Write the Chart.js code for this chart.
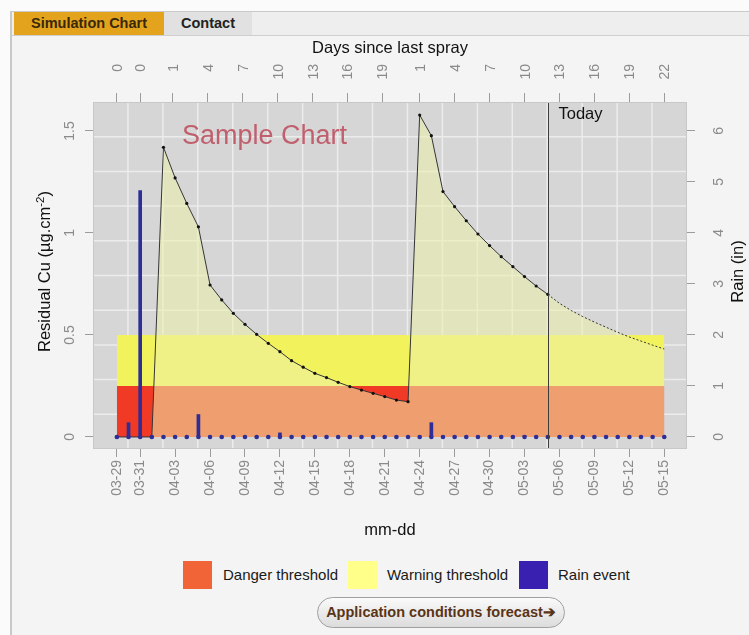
<!DOCTYPE html>
<html>
<head>
<meta charset="utf-8">
<script src="https://cdn.jsdelivr.net/npm/chart.js@4.4.1/dist/chart.umd.min.js"></script>
<style>
html,body{margin:0;padding:0;width:749px;height:635px;overflow:hidden;background:#fbfbfb;font-family:"Liberation Sans",Arial,Helvetica,sans-serif;}
#frame{position:absolute;left:10px;top:11px;width:739px;height:624px;background:#f4f4f4;border-left:2px solid #c9c9c9;border-top:1px solid #c9c9c9;}
#tabbar{position:absolute;left:0;top:0;width:739px;height:23px;background:#eeeeee;border-bottom:1px solid #cfcfcf;}
.tab{position:absolute;top:0;height:23px;line-height:23px;font-weight:bold;font-size:14.5px;text-align:center;}
#t1{left:2px;width:150px;background:#e4a31d;color:#3a2808;}
#t2{left:152px;width:88px;background:#e1e1e1;color:#222;}
#wrap{position:absolute;left:0;top:36px;width:749px;height:510px;}
.lg-box{position:absolute;top:561px;width:29px;height:28px;}
.lg-txt{position:absolute;top:566px;font-size:15px;line-height:18px;color:#1a1a1a;white-space:nowrap;}
#btn{position:absolute;left:317px;top:597px;width:246px;height:29px;border:1px solid #a0a0a0;border-radius:16px;background:linear-gradient(#fafafa,#dcdcdc);font-weight:bold;font-size:14.5px;line-height:29px;text-align:center;color:#5a3416;white-space:nowrap;}
</style>
</head>
<body>
<div id="frame">
  <div id="tabbar">
    <div class="tab" id="t1">Simulation Chart</div>
    <div class="tab" id="t2">Contact</div>
  </div>
</div>
<div id="wrap"><canvas id="c" width="749" height="510"></canvas></div>
<div class="lg-box" style="left:183px;background:#f06438;"></div>
<div class="lg-txt" style="left:223px;">Danger threshold</div>
<div class="lg-box" style="left:348px;background:#ffff8a;"></div>
<div class="lg-txt" style="left:387px;">Warning threshold</div>
<div class="lg-box" style="left:519px;background:#3a20b0;"></div>
<div class="lg-txt" style="left:558px;">Rain event</div>
<div id="btn">Application conditions forecast&#10132;</div>
<script>
// ---------- DATA ----------
const dates = ['03-29','03-30','03-31',
 '04-01','04-02','04-03','04-04','04-05','04-06','04-07','04-08','04-09','04-10',
 '04-11','04-12','04-13','04-14','04-15','04-16','04-17','04-18','04-19','04-20',
 '04-21','04-22','04-23','04-24','04-25','04-26','04-27','04-28','04-29','04-30',
 '05-01','05-02','05-03','05-04','05-05','05-06','05-07','05-08','05-09','05-10',
 '05-11','05-12','05-13','05-14','05-15'];
const tickDates = ['03-29','03-31','04-03','04-06','04-09','04-12','04-15','04-18','04-21',
 '04-24','04-27','04-30','05-03','05-06','05-09','05-12','05-15'];
const todayDate = '05-05';
// residual copper, observed (03-29 .. 05-05)
const cuObserved = [0,0,0,0,1.42,1.27,1.145,1.03,0.745,0.672,0.606,0.552,0.503,0.459,0.418,
 0.374,0.342,0.312,0.291,0.268,0.247,0.230,0.214,0.198,0.181,0.173,1.578,1.477,1.203,1.129,
 1.060,0.995,0.938,0.884,0.835,0.786,0.740,0.699];
// residual copper, forecast (05-05 .. 05-15)
const cuForecast = [0.699,0.655,0.620,0.590,0.563,0.538,0.513,0.490,0.470,0.450,0.431];
// daily rain (in)
const rainInches = [0,0.28,4.83,0,0,0,0,0.44,0,0,0,0,0,0,0.08,0,0,0,0,0,0,0,0,0,0,0,0,0.28,
 0,0,0,0,0,0,0,0.03,0,0,0,0,0,0,0,0,0,0,0,0];
// top axis: days since last spray (position in days from 03-29, label)
const sprayTickDays = [0,2,4.8,7.8,10.8,13.8,16.8,19.8,22.8,26,29,32,35,38,41,44,47];
const sprayTickLabels = ['0','0','1','4','7','10','13','16','19','1','4','7','10','13','16','19','22'];
const cuTicks = [0,0.5,1,1.5];
const rainTicks = [0,1,2,3,4,5,6];
const dangerLevel = 0.25;
const warningLevel = 0.5;

// ---------- STYLE / LAYOUT ----------
const FONT = '"Liberation Sans", Arial, Helvetica, sans-serif';
const TICK_COLOR = '#8a8a8a';
const xMin = -2.05, xMax = 48.95;
const yMin = -0.059, yMax = 1.642;
const rainPerCu = 4;
const todayIdx = dates.indexOf(todayDate);
const lastIdx = dates.length - 1;
const cuAll = cuObserved.concat(cuForecast.slice(1));

const panelPlugin = {
  id: 'panel',
  beforeDraw(chart) {
    const {ctx, chartArea: a} = chart;
    ctx.save();
    ctx.fillStyle = '#d6d6d6';
    ctx.fillRect(a.left, a.top, a.right - a.left, a.bottom - a.top);
    ctx.strokeStyle = '#ececec';
    ctx.lineWidth = 1.5;
    const nx = 17, ny = 10;
    ctx.beginPath();
    for (let i = 1; i < nx; i++) {
      const x = a.left + (a.right - a.left) * i / nx;
      ctx.moveTo(x, a.top); ctx.lineTo(x, a.bottom);
    }
    for (let j = 1; j < ny; j++) {
      const y = a.top + (a.bottom - a.top) * j / ny;
      ctx.moveTo(a.left, y); ctx.lineTo(a.right, y);
    }
    ctx.stroke();
    ctx.restore();
  },
  afterDatasetsDraw(chart) {
    const {ctx, chartArea: a, scales} = chart;
    ctx.save();
    const tx = Math.round(scales.x.getPixelForValue(todayIdx)) + 0.5;
    ctx.strokeStyle = '#3c3c3c';
    ctx.lineWidth = 1;
    ctx.beginPath(); ctx.moveTo(tx, a.top); ctx.lineTo(tx, a.bottom); ctx.stroke();
    ctx.fillStyle = '#111';
    ctx.font = '16.5px ' + FONT;
    ctx.textAlign = 'left'; ctx.textBaseline = 'alphabetic';
    ctx.fillText('Today', tx + 10, a.top + 17);
    ctx.fillStyle = '#c0606e';
    ctx.font = '27px ' + FONT;
    ctx.textBaseline = 'middle';
    ctx.fillText('Sample Chart', a.left + 89, a.top + 35);
    ctx.strokeStyle = '#c8c8c8';
    ctx.strokeRect(a.left + 0.5, a.top + 0.5, a.right - a.left - 1, a.bottom - a.top - 1);
    ctx.restore();
  },
  afterDraw(chart) {
    const {ctx, chartArea: a, scales} = chart;
    ctx.save();
    ctx.font = '14px ' + FONT;
    ctx.fillStyle = TICK_COLOR;
    ctx.textBaseline = 'alphabetic';
    const drawRot = (txt, x, y) => { ctx.save(); ctx.translate(x, y); ctx.rotate(-Math.PI/2); ctx.fillText(txt, 0, 0); ctx.restore(); };
    ctx.textAlign = 'center';
    scales.y.ticks.forEach(t => drawRot(String(t.value), a.left - 19, scales.y.getPixelForValue(t.value)));
    scales.y2.ticks.forEach(t => drawRot(String(t.value), a.right + 36, scales.y2.getPixelForValue(t.value)));
    // top axis labels (top-aligned, reading upward)
    ctx.textAlign = 'right';
    scales.x2.ticks.forEach((t, i) => drawRot(sprayTickLabels[i], scales.x2.getPixelForValue(t.value) + 5, a.top - 38));
    // titles
    ctx.fillStyle = '#111';
    ctx.font = '16.5px ' + FONT;
    const cy = (a.top + a.bottom) / 2 - 4;
    const cx = (a.left + a.right) / 2;
    ctx.textAlign = 'center';
    ctx.textBaseline = 'middle';
    ctx.fillText('Days since last spray', cx, 12);
    ctx.fillText('mm-dd', cx, a.bottom + 81);
    ctx.textBaseline = 'alphabetic';
    drawRot('Rain (in)', a.right + 56, cy);
    const p1 = 'Residual Cu (\u00b5g.cm', p2 = '-2', p3 = ')';
    ctx.font = '16.5px ' + FONT; const w1 = ctx.measureText(p1).width, w3 = ctx.measureText(p3).width;
    ctx.font = '11.5px ' + FONT; const w2 = ctx.measureText(p2).width;
    const tot = w1 + w2 + w3;
    ctx.save();
    ctx.translate(a.left - 43, cy);
    ctx.rotate(-Math.PI/2);
    ctx.textAlign = 'left';
    ctx.font = '16.5px ' + FONT; ctx.fillText(p1, -tot/2, 0);
    ctx.font = '11.5px ' + FONT; ctx.fillText(p2, -tot/2 + w1, -6);
    ctx.font = '16.5px ' + FONT; ctx.fillText(p3, -tot/2 + w1 + w2, 0);
    ctx.restore();
    ctx.restore();
  }
};

const pts = (arr, start) => arr.map((v, i) => ({x: start + i, y: v}));

new Chart(document.getElementById('c'), {
  type: 'line',
  data: {
    datasets: [
      { label: 'Rain days', type: 'line', data: pts(dates.map(() => 0), 0), xAxisID: 'x', yAxisID: 'y2',
        showLine: false, pointRadius: 2.3, pointBackgroundColor: '#2e2e96', pointBorderWidth: 0, order: 0 },
      { label: 'Rain event', type: 'bar', data: pts(rainInches, 0), xAxisID: 'x', yAxisID: 'y2',
        backgroundColor: '#2e2e96', barThickness: 3, borderWidth: 0, order: 1 },
      { label: 'Residual Cu', data: pts(cuObserved, 0), xAxisID: 'x', yAxisID: 'y',
        borderColor: '#353535', borderWidth: 1, tension: 0, pointRadius: 1.6,
        pointBackgroundColor: '#111', pointBorderWidth: 0, fill: false, order: 2 },
      { label: 'Forecast Cu', data: pts(cuForecast, todayIdx), xAxisID: 'x', yAxisID: 'y',
        borderColor: '#353535', borderWidth: 1, borderDash: [2, 2], tension: 0, pointRadius: 0,
        fill: false, order: 3 },
      { label: 'Cu area', data: pts(cuAll, 0), xAxisID: 'x', yAxisID: 'y',
        borderWidth: 0, pointRadius: 0, tension: 0,
        fill: 'origin', backgroundColor: 'rgba(236,240,172,0.55)', order: 4 },
      { label: 'Warning threshold', data: [{x: 0, y: warningLevel}, {x: lastIdx, y: warningLevel}],
        xAxisID: 'x', yAxisID: 'y', borderWidth: 0, pointRadius: 0,
        fill: {value: dangerLevel}, backgroundColor: '#f2f25c', order: 5 },
      { label: 'Danger threshold', data: [{x: 0, y: dangerLevel}, {x: lastIdx, y: dangerLevel}],
        xAxisID: 'x', yAxisID: 'y', borderWidth: 0, pointRadius: 0,
        fill: 'origin', backgroundColor: '#f03a26', order: 6 }
    ]
  },
  options: {
    responsive: false,
    devicePixelRatio: 1,
    animation: false,
    events: [],
    layout: { padding: 0 },
    plugins: { legend: { display: false }, tooltip: { enabled: false } },
    scales: {
      x: {
        type: 'linear', position: 'bottom', min: xMin, max: xMax, offset: false,
        afterBuildTicks: s => { s.ticks = tickDates.map(d => ({value: dates.indexOf(d)})); },
        afterFit: s => { s.height = 97; },
        ticks: { autoSkip: false, minRotation: 90, maxRotation: 90, padding: 3,
                 color: TICK_COLOR, font: {family: FONT, size: 14},
                 callback: v => dates[v] },
        grid: { offset: false, drawOnChartArea: false, drawTicks: true, tickLength: 8, color: '#9c9c9c' },
        border: { display: false }
      },
      x2: {
        type: 'linear', position: 'top', min: xMin, max: xMax, offset: false,
        afterBuildTicks: s => { s.ticks = sprayTickDays.map(d => ({value: d})); },
        afterFit: s => { s.height = 66; },
        ticks: { display: false },
        grid: { offset: false, drawOnChartArea: false, drawTicks: true, tickLength: 9, color: '#9c9c9c' },
        border: { display: false }
      },
      y: {
        type: 'linear', position: 'left', min: yMin, max: yMax,
        afterBuildTicks: s => { s.ticks = cuTicks.map(v => ({value: v})); },
        afterFit: s => { s.width = 93; },
        ticks: { display: false },
        grid: { drawOnChartArea: false, drawTicks: true, tickLength: 8, color: '#9c9c9c' },
        border: { display: false }
      },
      y2: {
        type: 'linear', position: 'right', min: yMin * rainPerCu, max: yMax * rainPerCu,
        afterBuildTicks: s => { s.ticks = rainTicks.map(v => ({value: v})); },
        afterFit: s => { s.width = 62; },
        ticks: { display: false },
        grid: { drawOnChartArea: false, drawTicks: true, tickLength: 8, color: '#9c9c9c' },
        border: { display: false }
      }
    }
  },
  plugins: [panelPlugin]
});
</script>
</body>
</html>
